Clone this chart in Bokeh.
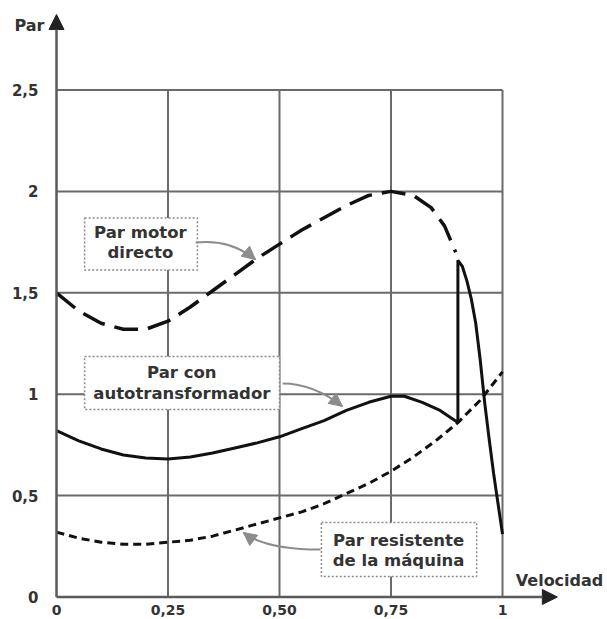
from bokeh.plotting import figure
from bokeh.models import Range1d, FixedTicker, Arrow, NormalHead, Label
from bokeh.core.properties import value
from bokeh.embed import file_html
from bokeh.resources import INLINE

# ---- data ----
x_ticks = [0, 0.25, 0.5, 0.75, 1]
x_tick_labels = ["0", "0,25", "0,50", "0,75", "1"]
y_ticks = [0, 0.5, 1, 1.5, 2, 2.5]
y_tick_labels = ["0", "0,5", "1", "1,5", "2", "2,5"]

vel_motor = [0, 0.05, 0.1, 0.15, 0.2, 0.25, 0.3, 0.35, 0.4, 0.45, 0.5, 0.55, 0.6,
             0.65, 0.7, 0.75, 0.8, 0.84, 0.87, 0.895]
par_motor = [1.50, 1.41, 1.35, 1.32, 1.32, 1.36, 1.43, 1.51, 1.59, 1.67, 1.74, 1.81, 1.87,
             1.93, 1.98, 2.00, 1.98, 1.92, 1.83, 1.70]

vel_auto = [0, 0.05, 0.1, 0.15, 0.2, 0.25, 0.3, 0.35, 0.4, 0.45, 0.5, 0.55, 0.6, 0.65,
            0.7, 0.75, 0.78, 0.82, 0.86, 0.9, 0.9, 0.91, 0.92, 0.93, 0.94, 0.95, 0.96,
            0.97, 0.98, 0.99, 1.0]
par_auto = [0.82, 0.77, 0.73, 0.70, 0.685, 0.68, 0.69, 0.71, 0.735, 0.76, 0.79, 0.83,
            0.87, 0.92, 0.96, 0.99, 0.99, 0.96, 0.92, 0.86, 1.66, 1.63, 1.56, 1.47, 1.35,
            1.17, 0.96, 0.78, 0.61, 0.46, 0.31]

vel_res = [0, 0.05, 0.1, 0.15, 0.2, 0.25, 0.3, 0.35, 0.4, 0.45, 0.5, 0.55, 0.6, 0.65,
           0.7, 0.75, 0.8, 0.85, 0.9, 0.95, 1.0]
par_res = [0.32, 0.29, 0.27, 0.26, 0.26, 0.27, 0.28, 0.30, 0.33, 0.36, 0.39, 0.42, 0.46,
           0.51, 0.56, 0.62, 0.69, 0.77, 0.86, 0.97, 1.11]

# annotation boxes (left, right, bottom, top) and their texts
box_left = [0.063, 0.063, 0.594]
box_right = [0.316, 0.500, 0.942]
box_bottom = [1.613, 0.925, 0.101]
box_top = [1.869, 1.186, 0.367]
box_text_x = [0.188, 0.281, 0.767, 0.188, 0.281, 0.767]
box_text_y = [1.797, 1.107, 0.279, 1.698, 1.003, 0.180]
box_texts = ["Par motor", "Par con", "Par resistente",
             "directo", "autotransformador", "de la máquina"]

# pointer arrows (start, control, tip)
ptr_x0 = [0.312, 0.507, 0.592]
ptr_y0 = [1.748, 1.053, 0.234]
ptr_cx = [0.390, 0.576, 0.469]
ptr_cy = [1.767, 1.053, 0.234]
ptr_x1 = [0.446, 0.641, 0.419]
ptr_y1 = [1.664, 0.940, 0.318]

FONT = "DejaVu Sans"
TXT = "#333333"
GRID = "#6a6a6a"

W, H = 607, 619
p = figure(width=W, height=H, output_backend="svg", toolbar_location=None,
           x_range=Range1d(-56 / 446, 551 / 446),
           y_range=Range1d(-22.5 / 202.8, 596.5 / 202.8),
           min_border_left=0, min_border_right=0, min_border_top=0, min_border_bottom=0)
p.outline_line_color = None
p.xgrid.visible = False
p.ygrid.visible = False
p.background_fill_color = "white"
p.border_fill_color = "white"

for ax, ticks, labels in ((p.xaxis, x_ticks, x_tick_labels), (p.yaxis, y_ticks, y_tick_labels)):
    ax.fixed_location = 0
    ax.ticker = FixedTicker(ticks=ticks)
    ax.major_label_overrides = dict(zip(ticks, labels))
    ax.axis_line_color = None
    ax.major_tick_line_color = None
    ax.minor_tick_line_color = None
    ax.major_label_text_font = FONT
    ax.major_label_text_font_style = "bold"
    ax.major_label_text_color = TXT
p.xaxis.major_label_text_font_size = "14px"
p.yaxis.major_label_text_font_size = "15px"
p.xaxis.major_label_standoff = 2
p.yaxis.major_label_standoff = 12

# grid
nv = len(x_ticks) - 1
nh = len(y_ticks) - 1
p.segment(x0=x_ticks[1:], y0=[y_ticks[0]] * nv, x1=x_ticks[1:], y1=[y_ticks[-1]] * nv,
          line_color=GRID, line_width=2)
p.segment(x0=[x_ticks[0]] * nh, y0=y_ticks[1:], x1=[x_ticks[-1]] * nh, y1=y_ticks[1:],
          line_color=GRID, line_width=2)

# axes with arrows
p.add_layout(Arrow(end=NormalHead(size=15, fill_color="#222222", line_color="#222222"),
                   x_start=0, y_start=0, x_end=1.123, y_end=0,
                   line_color="#5a5a5a", line_width=2.5))
p.add_layout(Arrow(end=NormalHead(size=15, fill_color="#222222", line_color="#222222"),
                   x_start=0, y_start=0, x_end=0, y_end=2.872,
                   line_color="#5a5a5a", line_width=2.5))

# curves
p.line(vel_res, par_res, line_color="#111111", line_width=3, line_dash="8 5")
p.line(vel_motor, par_motor, line_color="#111111", line_width=3.5, line_dash="24 10")
p.line(vel_auto, par_auto, line_color="#111111", line_width=3)

# annotation boxes
p.quad(left=box_left, right=box_right, bottom=box_bottom, top=box_top,
       fill_color="white", line_color="#8a8a8a", line_dash="2 2", line_width=1.5)
p.text(x=box_text_x, y=box_text_y, text=box_texts, text_font=value(FONT),
       text_font_style="bold", text_font_size="16.5px", text_color=TXT,
       text_align="center", text_baseline="middle")

# pointer arrows
PTR = "#8c8c8c"
p.quadratic(x0=ptr_x0, y0=ptr_y0, x1=ptr_x1, y1=ptr_y1, cx=ptr_cx, cy=ptr_cy,
            line_color=PTR, line_width=2)
for x1, y1, cx, cy in zip(ptr_x1, ptr_y1, ptr_cx, ptr_cy):
    p.add_layout(Arrow(end=NormalHead(size=13, fill_color=PTR, line_color=PTR),
                       x_start=x1 - 0.2 * (x1 - cx), y_start=y1 - 0.2 * (y1 - cy),
                       x_end=x1, y_end=y1, line_color=PTR, line_width=2))

# axis titles
p.add_layout(Label(x=-0.027, y=2.818, text="Par", text_font=FONT, text_font_style="bold",
                   text_font_size="16px", text_color=TXT, text_align="right",
                   text_baseline="middle"))
p.add_layout(Label(x=1.226, y=0.081, text="Velocidad", text_font=FONT, text_font_style="bold",
                   text_font_size="16px", text_color=TXT, text_align="right",
                   text_baseline="middle"))

open("out.html", "w").write(file_html(p, INLINE))
